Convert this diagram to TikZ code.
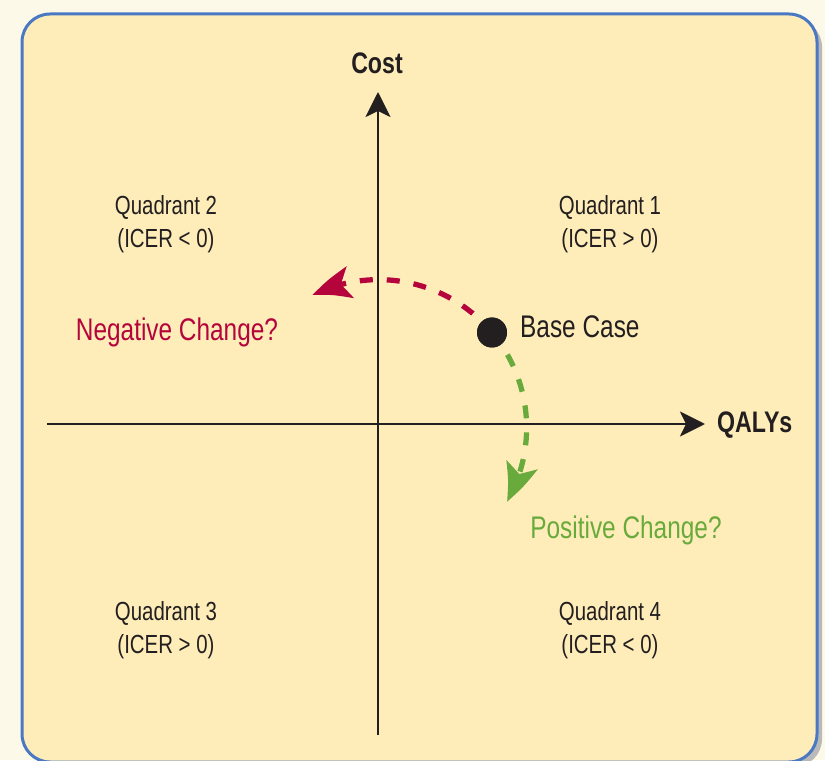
\documentclass[tikz,border=0pt]{standalone}
\usepackage{fontspec}
\setmainfont[FakeStretch=0.78]{Liberation Sans}
\usepackage{tikz}
\usetikzlibrary{arrows.meta}
\usetikzlibrary{bending}
\usetikzlibrary{positioning}
\definecolor{pageBg}{HTML}{FDF9E8}
\definecolor{boxBg}{HTML}{FEEDB9}
\definecolor{boxLine}{HTML}{4A78C2}
\definecolor{axisInk}{HTML}{231F20}
\definecolor{negRed}{HTML}{B5033B}
\definecolor{posGreen}{HTML}{69AA3C}
\tikzset{quadLabel/.style={align=center, text=axisInk, font=\fontsize{14.9}{18.7}\selectfont}}
\tikzset{axisLabel/.style={text=axisInk, font=\fontsize{16.9}{19}\selectfont\bfseries}}
\tikzset{changeLabel/.style={font=\fontsize{17.8}{20}\selectfont}}
\tikzset{axisLine/.style={draw=axisInk, line width=0.055cm, -{Stealth[length=0.5cm, width=0.5cm, inset=0.12cm]}}}
\tikzset{changeArrow/.style={line width=0.105cm, dash pattern=on 0.26cm off 0.28cm, -{Stealth[length=0.8cm, width=0.64cm, inset=0.19cm, bend]}}}

\begin{document}
\begin{tikzpicture}
\useasboundingbox (0,0) rectangle (16.5,15.2);
\fill[pageBg] (0,0) rectangle (16.5,15.2);
\fill[gray!55, rounded corners=0.56cm] (0.54,-0.14) rectangle (16.44,14.82);
\draw[boxLine, fill=boxBg, line width=0.06cm, rounded corners=0.56cm] (0.44,-0.04) rectangle (16.34,14.92);

% axes
\coordinate (yBottom) at (7.56, 0.5);
\coordinate (yTop) at (7.56, 13.36);
\coordinate (xLeft) at (0.94, 6.72);
\coordinate (xRight) at (14.1, 6.72);
\draw[axisLine] (yBottom) -- (yTop);
\draw[axisLine] (xLeft) -- (xRight);
\node[axisLabel] (cost) at (7.54, 13.94) {Cost};
\node[axisLabel, anchor=west] (qalys) at (14.22, 6.7) {QALYs};

% quadrants
\node[quadLabel] (q2) at (3.32, 10.71) {Quadrant 2\\(ICER < 0)};
\node[quadLabel] (q1) at (12.2, 10.71) {Quadrant 1\\(ICER > 0)};
\node[quadLabel] (q3) at (3.32, 2.59) {Quadrant 3\\(ICER > 0)};
\node[quadLabel] (q4) at (12.2, 2.59) {Quadrant 4\\(ICER < 0)};

% base case and changes
\node[circle, fill=axisInk, minimum size=0.6cm, inner sep=0pt] (base) at (9.84, 8.55) {};
\draw[changeArrow, negRed] (base.center) arc[start angle=40, end angle=116.5, radius=2.96];
\draw[changeArrow, posGreen] (base.center) arc[start angle=40, end angle=-30, radius=2.96];
\node[circle, fill=axisInk, minimum size=0.6cm, inner sep=0pt] at (base) {};
\node[changeLabel, anchor=west, text=axisInk] (baseText) at (10.28, 8.66) {Base Case};
\node[changeLabel, text=negRed] (negText) at (3.54, 8.56) {Negative Change?};
\node[changeLabel, text=posGreen] (posText) at (12.52, 4.6) {Positive Change?};

\end{tikzpicture}
\end{document}
